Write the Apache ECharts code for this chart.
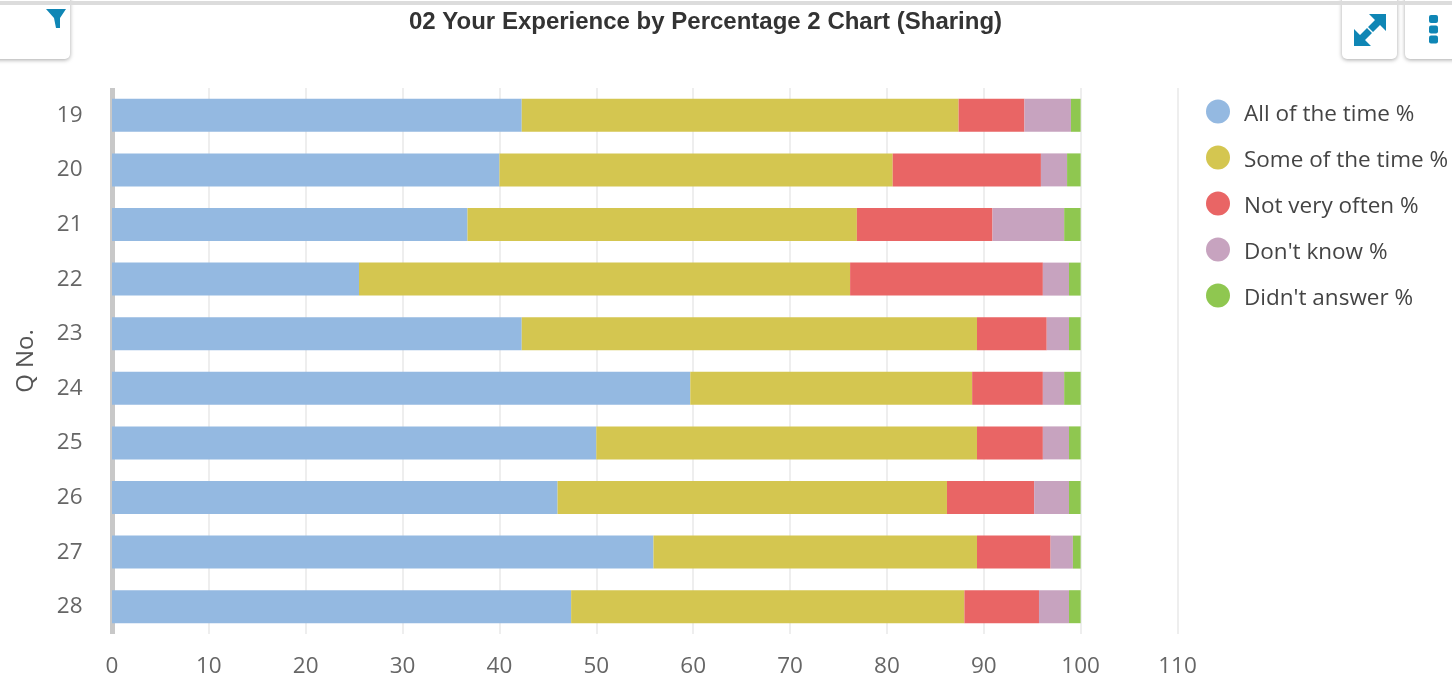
<!DOCTYPE html>
<html><head><meta charset="utf-8">
<style>html,body{margin:0;padding:0;background:#fff}#c{width:1452px;height:681px}</style>
<script src="https://cdn.jsdelivr.net/npm/echarts@6/dist/echarts.min.js"></script>
</head><body><div id="c"></div>
<script>
const categories = ['19','20','21','22','23','24','25','26','27','28'];
const allOfTheTime = [42.3,40.0,36.7,25.5,42.3,59.7,50.0,46.0,55.9,47.4];
const someOfTheTime = [45.1,40.6,40.2,50.7,47.0,29.1,39.3,40.2,33.4,40.6];
const notVeryOften = [6.8,15.3,14.0,19.9,7.2,7.3,6.8,9.0,7.6,7.7];
const dontKnow = [4.8,2.7,7.4,2.7,2.3,2.2,2.7,3.6,2.3,3.1];
const didntAnswer = [1.0,1.4,1.7,1.2,1.2,1.7,1.2,1.2,0.8,1.2];
const names = ['All of the time %','Some of the time %','Not very often %',"Don't know %","Didn't answer %"];
const colors = ['#94b9e1','#d4c650','#e96565','#c7a3bf','#8fc750'];
const seriesValues = [allOfTheTime,someOfTheTime,notVeryOften,dontKnow,didntAnswer];
const font = '"Open Sans"';
const chart = echarts.init(document.getElementById('c'),null,{renderer:'canvas'});
const shadowBox = (x,y,w,h)=>({type:'rect',shape:{x,y,width:w,height:h,r:5},style:{fill:'#fff',shadowBlur:4,shadowColor:'rgba(0,0,0,0.35)',shadowOffsetY:1}});
const blue = '#0f86b5';
chart.setOption({
  animation:false,
  backgroundColor:'#fff',
  color:colors,
  title:{text:'02 Your Experience by Percentage 2 Chart (Sharing)',left:700.5,top:5,textAlign:'center',
    textStyle:{fontFamily:'"Liberation Sans"',fontWeight:'bold',fontSize:24,color:'#333'}},
  legend:{orient:'vertical',left:1201,top:91.5,itemWidth:24,itemHeight:24,itemGap:16,icon:'circle',
    data:names,formatter:n=>`{t|${n}}`,
    textStyle:{fontFamily:font,fontSize:22.5,color:'#444',padding:[0,0,0,9],
      rich:{t:{fontFamily:font,fontSize:22.5,color:'#444',lineHeight:17,padding:[7,0,0,0]}}}},
  grid:{left:112,top:88,width:1065.5,height:546,containLabel:false},
  xAxis:{type:'value',min:0,max:110,interval:10,
    axisLine:{show:false},axisTick:{show:false},
    splitLine:{show:true,lineStyle:{color:'#eeeeee',width:2}},
    axisLabel:{fontFamily:font,fontSize:22.5,color:'#666',margin:21}},
  yAxis:{type:'category',inverse:true,data:categories,offset:1.5,name:'Q No.',nameLocation:'middle',nameGap:72,nameRotate:90,
    nameTextStyle:{fontFamily:font,fontSize:24,color:'#555'},
    axisLine:{show:true,lineStyle:{color:'#c8c8c8',width:5,cap:'butt'}},axisTick:{show:false},
    axisLabel:{fontFamily:font,fontSize:22.5,color:'#666',margin:28}},
  series:seriesValues.map((v,i)=>({type:'bar',name:names[i],stack:'a',data:v,barWidth:33,
    itemStyle:{color:colors[i]}})),
  graphic:[
    {type:'rect',shape:{x:0,y:1,width:1452,height:4},style:{fill:'#dcdcdc'},z:10},
    {type:'group',children:[
      {...shadowBox(-10,-10,80,69)},
      {...shadowBox(1342,-10,55,69)},
      {...shadowBox(1405,-10,60,69)},
      {type:'polygon',shape:{points:[[46,9],[66,9],[60,18],[60,28],[56,28],[54,18]]},style:{fill:blue}},
      {type:'polygon',shape:{points:[[1386,14],[1386,31],[1380,25],[1373,32],[1368,27],[1375,20],[1369,14]]},style:{fill:blue}},
      {type:'polygon',shape:{points:[[1354,46],[1354,29],[1360,35],[1367,28],[1372,33],[1365,40],[1371,46]]},style:{fill:blue}},
      {type:'rect',shape:{x:1429,y:15,width:9,height:8,r:2},style:{fill:blue}},
      {type:'rect',shape:{x:1429,y:25.5,width:9,height:8,r:2},style:{fill:blue}},
      {type:'rect',shape:{x:1429,y:35.5,width:9,height:8,r:2},style:{fill:blue}}
    ]}
  ]
});
</script></body></html>
